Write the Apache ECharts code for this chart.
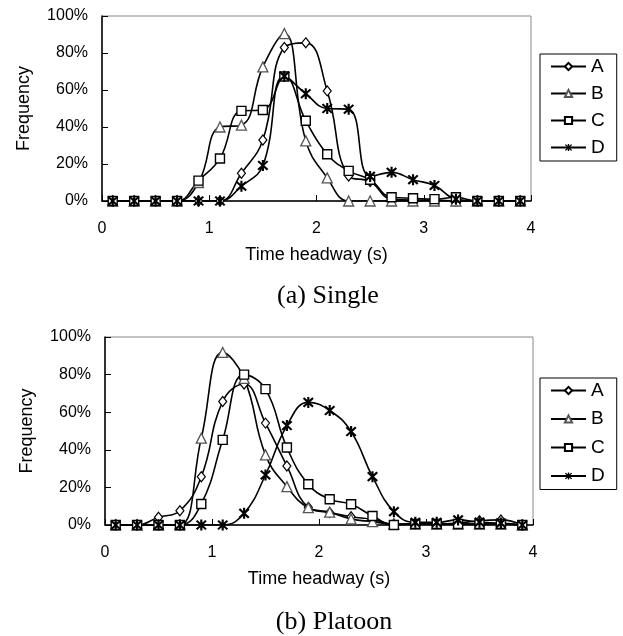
<!DOCTYPE html>
<html>
<head>
<meta charset="utf-8">
<script src="https://cdn.jsdelivr.net/npm/echarts@6/dist/echarts.min.js"></script>
<style>
html,body{margin:0;padding:0;background:#fff;}
#c{width:623px;height:636px;}
</style>
</head>
<body>
<div id="c"></div>
<script>
// Time headway bin centres (s)
const headway = [0.1, 0.3, 0.5, 0.7, 0.9, 1.1, 1.3, 1.5, 1.7, 1.9, 2.1, 2.3, 2.5, 2.7, 2.9, 3.1, 3.3, 3.5, 3.7, 3.9];
const seriesNames = ['A', 'B', 'C', 'D'];
const yTicks = [0, 20, 40, 60, 80, 100];
const xTicks = [0, 1, 2, 3, 4];

// (a) Single — frequency (%)
const singleA = [0, 0, 0, 0, 0, 0, 15, 33, 83, 85.5, 59.5, 13.5, 10.5, 1, 0.5, 0.5, 0, 0, 0, 0];
const singleB = [0, 0, 0, 0, 10, 40, 41, 72.5, 90.5, 32.5, 12.5, 0, 0, 0, 0, 0, 0, 0, 0, 0];
const singleC = [0, 0, 0, 0, 11, 23, 48.7, 49.2, 67.3, 43.4, 25.3, 16.3, 11.5, 2, 1.5, 1, 2, 0, 0, 0];
const singleD = [0, 0, 0, 0, 0, 0, 8, 19.2, 67.5, 58, 50, 49.6, 13.3, 15.5, 11.5, 8.4, 1, 0, 0, 0];

// (b) Platoon — frequency (%)
const platoonA = [0, 0, 4.1, 7.6, 25.7, 65.7, 75, 54.2, 31.4, 9.4, 6.6, 4.4, 3, 0.5, 0.5, 0.5, 1, 2.3, 2.7, 0];
const platoonB = [0, 0, 0, 0, 46.2, 91.8, 78, 37.3, 20.4, 9.2, 6.8, 3.2, 1.8, 0.5, 0.5, 0.5, 0.5, 0.5, 0.5, 0];
const platoonC = [0, 0, 0, 0, 11.2, 45.3, 80, 72.3, 41.2, 21.7, 13.7, 11, 4.8, 0, 0.5, 0.5, 0.5, 0.5, 0.5, 0];
const platoonD = [0, 0, 0, 0, 0, 0, 6.2, 26.6, 52.9, 65.2, 60.9, 49.7, 25.7, 7.1, 1.4, 1.4, 2.7, 1.5, 1, 0];

const starPath = 'path://M4.1,0 L5.9,0 L5.9,10 L4.1,10 Z M0.4,1.7 L1.7,0.4 L9.6,8.3 L8.3,9.6 Z M8.3,0.4 L9.6,1.7 L1.7,9.6 L0.4,8.3 Z';

const markerStyles = {
  A: { symbol: 'diamond', symbolSize: [8, 10], itemStyle: { color: '#fff', borderColor: '#000', borderWidth: 1.2 } },
  B: { symbol: 'triangle', symbolSize: 10, itemStyle: { color: '#fff', borderColor: '#555', borderWidth: 1.3 } },
  C: { symbol: 'rect', symbolSize: 9, itemStyle: { color: '#fff', borderColor: '#000', borderWidth: 1.4 } },
  D: { symbol: starPath, symbolSize: 11, itemStyle: { color: '#000', borderColor: '#000', borderWidth: 0 } }
};

function makeSeries(name, values, idx) {
  const m = markerStyles[name];
  return {
    name: name,
    type: 'line',
    xAxisIndex: idx,
    yAxisIndex: idx,
    smooth: 0.45,
    showAllSymbol: true,
    symbol: m.symbol,
    symbolSize: m.symbolSize,
    itemStyle: m.itemStyle,
    lineStyle: { color: '#000', width: 1.6 },
    data: headway.map((h, i) => [h, values[i]]),
    z: 3
  };
}

const font = 'Liberation Sans, Arial, sans-serif';

function xAxisFor(idx) {
  return {
    gridIndex: idx, type: 'value', min: xTicks[0], max: xTicks[xTicks.length - 1], interval: 1,
    axisLine: { show: true, onZero: false, lineStyle: { color: '#000', width: 1.5 } },
    axisTick: { show: true, inside: true, length: 6, lineStyle: { color: '#000', width: 1 } },
    splitLine: { show: false },
    axisLabel: { fontSize: 16, color: '#000', margin: 20, fontFamily: font },
    name: 'Time headway (s)', nameLocation: 'middle', nameGap: 45,
    nameTextStyle: { fontSize: 18, color: '#000', fontFamily: font }
  };
}
function yAxisFor(idx) {
  return {
    gridIndex: idx, type: 'value', min: yTicks[0], max: yTicks[yTicks.length - 1], interval: 20,
    axisLine: { show: true, onZero: false, lineStyle: { color: '#000', width: 1.5 } },
    axisTick: { show: true, inside: true, length: 6, lineStyle: { color: '#000', width: 1 } },
    splitLine: { show: false },
    axisLabel: { fontSize: 16, color: '#000', margin: 14, fontFamily: font, formatter: '{value}%' },
    name: 'Frequency', nameLocation: 'middle', nameGap: 69, nameRotate: 90,
    nameTextStyle: { fontSize: 18, color: '#000', fontFamily: font }
  };
}
function legendFor(top, gap) {
  return {
    orient: 'vertical', left: 540, top: top, data: seriesNames,
    borderColor: '#000', borderWidth: 1, padding: [3, 12, 4, 10],
    itemGap: gap, itemWidth: 35, itemHeight: 9,
    textStyle: { fontSize: 19, color: '#000', fontFamily: font }
  };
}

const option = {
  animation: false,
  backgroundColor: '#fff',
  title: [
    { text: '(a) Single', left: 323, top: 278, textAlign: 'center',
      textStyle: { fontFamily: 'Liberation Serif, Times New Roman, serif', fontSize: 26, fontWeight: 'normal', color: '#000' } },
    { text: '(b) Platoon', left: 329, top: 604, textAlign: 'center',
      textStyle: { fontFamily: 'Liberation Serif, Times New Roman, serif', fontSize: 26, fontWeight: 'normal', color: '#000' } }
  ],
  legend: [legendFor(54, 8), legendFor(378, 9.5)],
  grid: [
    { left: 102, top: 16, width: 429, height: 185, show: true, borderColor: '#888', borderWidth: 1, backgroundColor: 'transparent', outerBoundsMode: 'none' },
    { left: 105, top: 337, width: 428, height: 188, show: true, borderColor: '#888', borderWidth: 1, backgroundColor: 'transparent', outerBoundsMode: 'none' }
  ],
  xAxis: [xAxisFor(0), xAxisFor(1)],
  yAxis: [yAxisFor(0), yAxisFor(1)],
  series: [
    makeSeries('A', singleA, 0), makeSeries('B', singleB, 0), makeSeries('C', singleC, 0), makeSeries('D', singleD, 0),
    makeSeries('A', platoonA, 1), makeSeries('B', platoonB, 1), makeSeries('C', platoonC, 1), makeSeries('D', platoonD, 1)
  ]
};

const chart = echarts.init(document.getElementById('c'), null, { renderer: 'canvas' });
chart.setOption(option);
</script>
</body>
</html>
